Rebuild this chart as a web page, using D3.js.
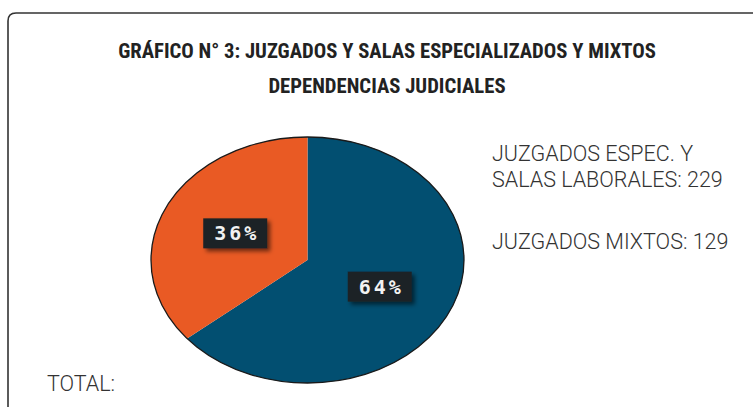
<!DOCTYPE html>
<html>
<head>
<meta charset="utf-8">
<script src="https://cdn.jsdelivr.net/npm/d3@7"></script>
<style>
  body { margin: 0; background: #fff; }
  svg { display: block; }
</style>
</head>
<body>
<div class="canvas"></div>
<script>
// data
const categories = ["JUZGADOS ESPEC. Y SALAS LABORALES", "JUZGADOS MIXTOS"];
const values = [229, 129];
const colors = ["#024f71", "#e95a24"];
const titleLines = ["GRÁFICO N° 3: JUZGADOS Y SALAS ESPECIALIZADOS Y MIXTOS", "DEPENDENCIAS JUDICIALES"];

// dimensions
const w = 753;
const h = 407;
const cx = 307.5, cy = 260; // pie center
const rx = 156.5, ry = 123; // ellipse radii

const svg = d3.select(".canvas").append("svg").attr("width", w).attr("height", h);

// frame with rounded top-left corner, runs off the right and bottom
svg.append("path")
  .attr("d", "M8,420 L8,21 Q8,13 16,13 L760,13")
  .attr("fill", "none")
  .attr("stroke", "#333")
  .attr("stroke-width", 1.6);

// title
svg.selectAll(".title")
  .data(titleLines)
  .enter()
  .append("text")
  .attr("class", "title")
  .attr("x", 387)
  .attr("y", (d, i) => 58 + i * 35)
  .attr("text-anchor", "middle")
  .attr("font-family", "'Liberation Sans Narrow', 'Roboto Condensed', 'Arial Narrow', sans-serif")
  .attr("font-weight", "bold")
  .attr("font-size", 20.7)
  .attr("fill", "#222")
  .text((d) => d);

// pie drawn on a unit circle, then stretched into an ellipse
const pie = d3.pie().sort(null).value((d) => d);
const arcs = pie(values);
const total = d3.sum(values);
const arc = d3.arc().innerRadius(0).outerRadius(1);
const labelArc = d3.arc().innerRadius(0.51).outerRadius(0.51);

const pieG = svg.append("g").attr("transform", `translate(${cx}, ${cy})`);
const stretched = pieG.append("g").attr("transform", `scale(${rx}, ${ry})`);

stretched.selectAll("path")
  .data(arcs)
  .enter()
  .append("path")
  .attr("d", arc)
  .attr("fill", (d, i) => colors[i]);

// outline of the whole ellipse
pieG.append("ellipse")
  .attr("rx", rx)
  .attr("ry", ry)
  .attr("fill", "none")
  .attr("stroke", "#1a1a1a")
  .attr("stroke-width", 1.3);

// shadow filter for the label boxes
const defs = svg.append("defs");
const f = defs.append("filter").attr("id", "shadow").attr("x", "-30%").attr("y", "-30%").attr("width", "160%").attr("height", "170%");
f.append("feDropShadow").attr("dx", 3).attr("dy", 3).attr("stdDeviation", 2).attr("flood-color", "#000").attr("flood-opacity", 0.55);

// percentage labels
const labels = pieG.selectAll(".lbl")
  .data(arcs)
  .enter()
  .append("g")
  .attr("class", "lbl")
  .attr("transform", (d) => {
    const c = labelArc.centroid(d);
    return `translate(${c[0] * rx}, ${c[1] * ry})`;
  });

labels.append("rect")
  .attr("x", -32)
  .attr("y", -15)
  .attr("width", 64)
  .attr("height", 30)
  .attr("fill", "#1c2326")
  .attr("filter", "url(#shadow)");

const ls = 3;
labels.append("text")
  .attr("text-anchor", "middle")
  .attr("dx", ls / 2)
  .attr("dy", 7)
  .attr("font-family", "'DejaVu Sans Mono', monospace")
  .attr("font-weight", "bold")
  .attr("font-size", 20)
  .attr("letter-spacing", ls)
  .attr("fill", "#f2f2f2")
  .text((d) => Math.round((d.value / total) * 100) + "%");

// legend text
const legendFont = "Roboto, 'Open Sans', sans-serif";
const legend = svg.append("g").attr("font-family", legendFont).attr("font-weight", 300).attr("font-size", 21.5).attr("fill", "#333");
legend.append("text").attr("x", 492).attr("y", 161).text("JUZGADOS ESPEC. Y");
legend.append("text").attr("x", 492).attr("y", 187).text(`SALAS LABORALES: ${values[0]}`);
legend.append("text").attr("x", 492).attr("y", 249).text(`JUZGADOS MIXTOS: ${values[1]}`);

svg.append("text")
  .attr("x", 47)
  .attr("y", 391)
  .attr("font-family", legendFont)
  .attr("font-weight", 300)
  .attr("font-size", 21.5)
  .attr("fill", "#333")
  .text("TOTAL:");
</script>
</body>
</html>
